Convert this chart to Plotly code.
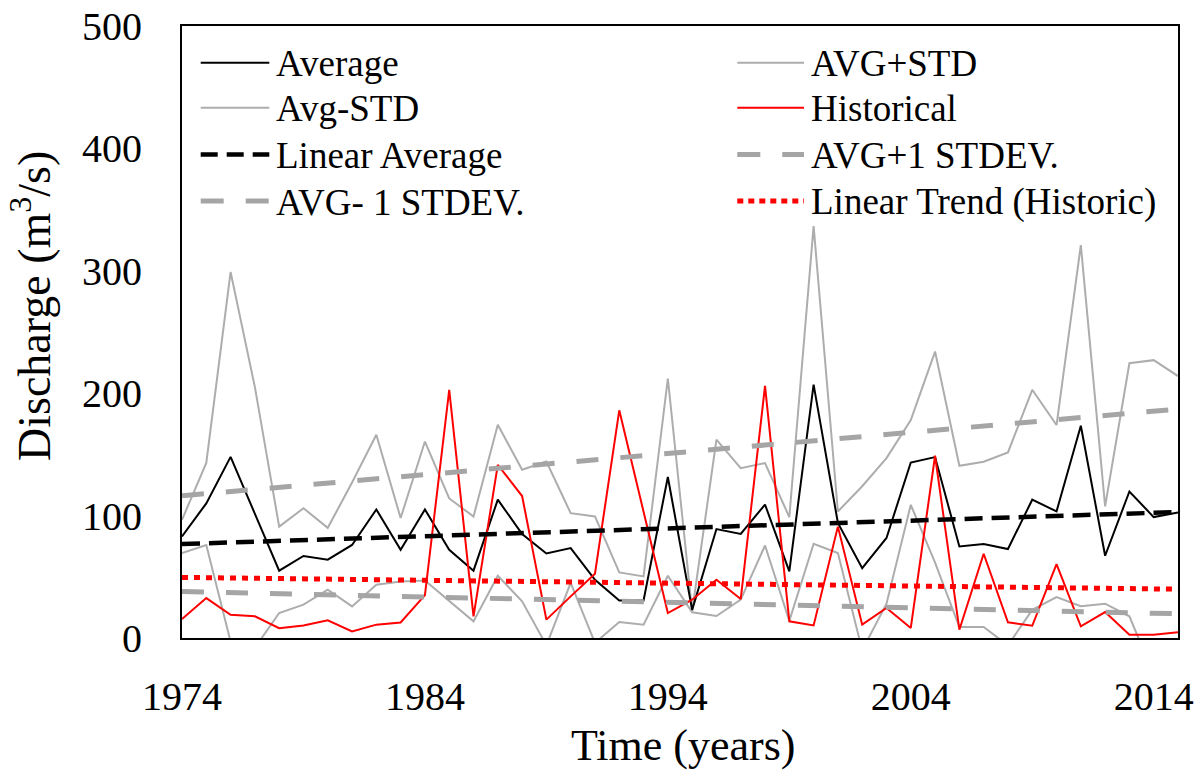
import plotly.graph_objects as go

# ---------------- data ----------------
years = list(range(1974, 2016))

average = [83, 110, 148, 101, 55, 67, 64, 76, 105, 72,
           105, 72, 55, 113, 85, 69, 73.5, 47.6, 30.7, 30.7,
           131.5, 23, 89, 85, 109, 54.4, 207, 94, 57, 81.7,
           143.4, 147.8, 74.8, 76.7, 72.7, 113, 103.4, 173.4, 67.2, 119.7,
           98.8, 102.6]

avg_plus_std = [96.6, 143, 299, 205, 91, 106, 90, 127, 166, 98,
                160.5, 114, 99.3, 174.2, 137.4, 144.2, 102, 99.3, 53.6, 50.3,
                212, 22, 162, 138.8, 142.9, 98.8, 336.5, 103.4, 124, 147,
                178, 234, 140.7, 144, 151.6, 202.8, 174, 321, 107.5, 224.5,
                227, 214]

avg_minus_std = [69.4, 76, -3, -8, 20.4, 27.2, 39.4, 25.8, 43.5, 46.2,
                 47, 29.9, 13.6, 50.9, 30, -6, 45, -4, 13, 10.9,
                 50.9, 21, 18, 31.3, 75.6, 14, 77, 69.4, -10, 28,
                 108.8, 61.6, 9, 9, -6, 23, 33.5, 26, 28, 17.7,
                 -30, -9]

historical = [15.5, 32.6, 19, 17.7, 8, 10.3, 14.4, 5.4, 10.9, 12.7,
              35, 202.8, 17.7, 141.5, 116, 15, 34, 52.5, 186, 103,
              20.4, 31.3, 47.6, 31.8, 206, 13.6, 10.3, 91, 10.9, 24.5,
              8.2, 148.9, 6.8, 68.8, 12.8, 10, 60.4, 9.5, 21.2, 2.7,
              2.7, 4.6]

trend_years = [1974, 2015]
linear_average = [76.8, 102.9]
linear_plus_stdev = [116.2, 187.0]
linear_minus_stdev = [38.0, 19.8]
linear_historic = [49.5, 39.9]

x_ticks = [1974, 1984, 1994, 2004, 2014]
y_ticks = [0, 100, 200, 300, 400, 500]

names = ["Average", "AVG+STD", "Avg-STD", "Historical",
         "Linear Average", "AVG+1 STDEV.", "AVG- 1 STDEV.", "Linear Trend (Historic)"]

# ---------------- styles ----------------
FONT = "Liberation Serif, Times New Roman, serif"
GRAY = "#ADADAD"
DGRAY = "#A5A5A5"
RED = "#FF0000"
BLACK = "#000000"

styles = {
    "Average": dict(color=BLACK, width=2),
    "AVG+STD": dict(color=GRAY, width=2),
    "Avg-STD": dict(color=GRAY, width=2),
    "Historical": dict(color=RED, width=2),
    "Linear Average": dict(color=BLACK, width=4.5, dash="18px,9px"),
    "AVG+1 STDEV.": dict(color=DGRAY, width=5, dash="22px,22px"),
    "AVG- 1 STDEV.": dict(color=DGRAY, width=5, dash="22px,22px"),
    "Linear Trend (Historic)": dict(color=RED, width=5, dash="6px,6px"),
}

fig = go.Figure()
series = [
    ("AVG+STD", years, avg_plus_std),
    ("Avg-STD", years, avg_minus_std),
    ("Average", years, average),
    ("Historical", years, historical),
    ("AVG+1 STDEV.", trend_years, linear_plus_stdev),
    ("AVG- 1 STDEV.", trend_years, linear_minus_stdev),
    ("Linear Average", trend_years, linear_average),
    ("Linear Trend (Historic)", trend_years, linear_historic),
]
for nm, xs, ys in series:
    fig.add_trace(go.Scatter(x=xs, y=ys, mode="lines", name=nm,
                             line=styles[nm], showlegend=False,
                             hoverinfo="x+y+name"))

# ---------------- layout ----------------
W, H = 1202, 773
L, R, T, B = 182, 24, 26, 135
PW, PH = W - L - R, H - T - B


def px_x(X):
    return (X - L) / PW


def px_y(Y):
    return (H - B - Y) / PH


shapes = []
annotations = []

# manual legend (2 columns x 4 rows)
legend_rows = [62.7, 107.7, 154.5, 201]
legend_cols = [(200.7, 269.3, 274), (737.3, 804, 809)]
legend_dash = {
    "Linear Average": "17px,9px",
    "AVG+1 STDEV.": "23px,22px",
    "AVG- 1 STDEV.": "23px,22px",
    "Linear Trend (Historic)": "6px,5px",
}
for k, nm in enumerate(names):
    row, col = k // 2, k % 2
    x0, x1, xt = legend_cols[col]
    yy = legend_rows[row]
    st = dict(styles[nm])
    if nm in legend_dash:
        st["dash"] = legend_dash[nm]
    shapes.append(dict(type="line", xref="paper", yref="paper",
                       x0=px_x(x0), x1=px_x(x1), y0=px_y(yy), y1=px_y(yy),
                       line=st))
    annotations.append(dict(xref="paper", yref="paper", x=px_x(xt), y=px_y(yy + 1),
                            text=nm, showarrow=False, xanchor="left", yanchor="middle",
                            font=dict(family=FONT, size=37, color=BLACK)))

# axis titles
annotations.append(dict(xref="paper", yref="paper", x=px_x(683), y=px_y(745),
                        text="Time (years)", showarrow=False,
                        xanchor="center", yanchor="middle",
                        font=dict(family=FONT, size=44, color=BLACK)))
annotations.append(dict(xref="paper", yref="paper", x=px_x(31), y=px_y(306),
                        text="Discharge (m<sup>3</sup>/s)", showarrow=False, textangle=-90,
                        xanchor="center", yanchor="middle",
                        font=dict(family="Liberation Serif", size=46, color=BLACK)))

fig.update_layout(
    width=W, height=H,
    margin=dict(l=L, r=R, t=T, b=B, pad=0, autoexpand=False),
    paper_bgcolor="white", plot_bgcolor="white",
    font=dict(family=FONT, size=40, color=BLACK),
    shapes=shapes, annotations=annotations,
    showlegend=False,
    xaxis=dict(range=[1974, 2015], tickvals=x_ticks, ticktext=[str(v) for v in x_ticks],
               showgrid=False, zeroline=False, showline=True, mirror=True, automargin=False,
               linecolor=BLACK, linewidth=2, ticks="", ticklabelstandoff=22,
               tickfont=dict(family=FONT, size=40, color=BLACK)),
    yaxis=dict(range=[0, 500], tickvals=y_ticks, automargin=False,
               showgrid=False, zeroline=False, showline=True, mirror=True,
               linecolor=BLACK, linewidth=2, ticks="", ticklabelstandoff=30,
               tickfont=dict(family=FONT, size=40, color=BLACK)),
)

fig.write_html("out.html")
